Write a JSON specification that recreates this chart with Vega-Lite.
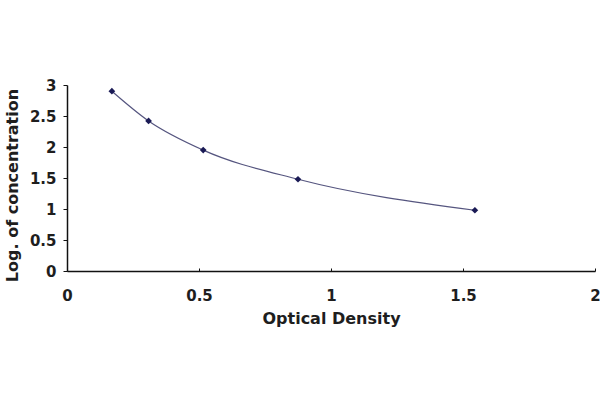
{
  "$schema": "https://vega.github.io/schema/vega-lite/v6.json",
  "autosize": {"type": "none"},
  "width": 528,
  "height": 186,
  "padding": {"left": 67, "top": 85, "right": 5, "bottom": 129},
  "background": "#ffffff",
  "config": {
    "view": {"stroke": null},
    "axis": {
      "grid": false,
      "domainColor": "#111111",
      "domainWidth": 1.5,
      "tickColor": "#111111",
      "labelFont": "DejaVu Sans",
      "labelFontWeight": "bold",
      "labelFontSize": 15,
      "labelColor": "#1e1e1e",
      "titleFont": "DejaVu Sans",
      "titleFontWeight": "bold",
      "titleFontSize": 16,
      "titleColor": "#1e1e1e"
    }
  },
  "data": {
    "values": [
      {"od": 0.170, "logc": 2.90},
      {"od": 0.309, "logc": 2.42},
      {"od": 0.516, "logc": 1.95},
      {"od": 0.875, "logc": 1.48},
      {"od": 1.545, "logc": 0.98}
    ]
  },
  "encoding": {
    "x": {
      "field": "od",
      "type": "quantitative",
      "title": "Optical Density",
      "scale": {"domain": [0, 2], "nice": false, "zero": true},
      "axis": {
        "values": [0, 0.5, 1, 1.5, 2],
        "format": "~g",
        "tickSize": -3,
        "labelPadding": 20,
        "titlePadding": 7,
        "labelFlush": false
      }
    },
    "y": {
      "field": "logc",
      "type": "quantitative",
      "title": "Log. of concentration",
      "scale": {"domain": [0, 3], "nice": false},
      "axis": {
        "values": [0, 0.5, 1, 1.5, 2, 2.5, 3],
        "format": "~g",
        "tickSize": 4,
        "labelPadding": 7,
        "titlePadding": 9,
        "titleY": 100,
        "labelFlush": false
      }
    }
  },
  "layer": [
    {
      "mark": {"type": "line", "interpolate": "monotone", "stroke": "#55557f", "strokeWidth": 1.2}
    },
    {
      "mark": {"type": "point", "shape": "diamond", "filled": true, "size": 45, "color": "#1a1a55", "opacity": 1}
    }
  ]
}
